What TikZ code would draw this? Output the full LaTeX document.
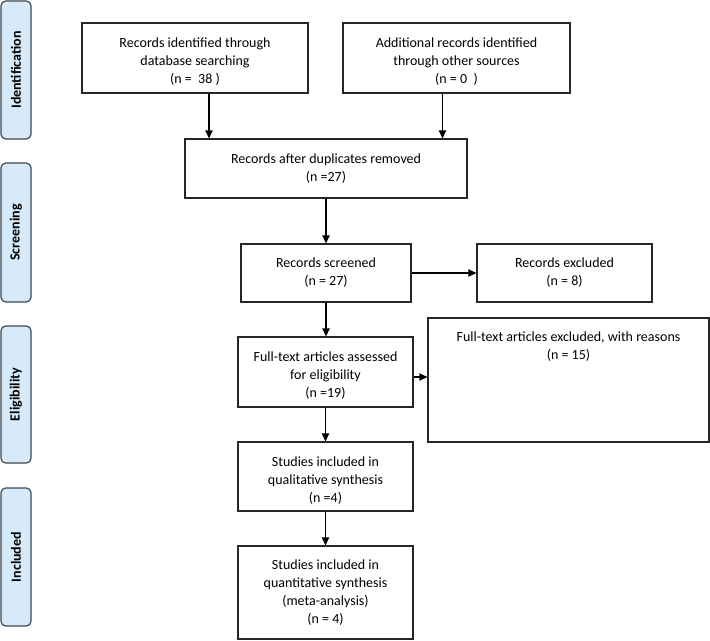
\documentclass[tikz,border=0pt]{standalone}
\usepackage{fontspec}
\setmainfont{Carlito}
\usetikzlibrary{arrows.meta,calc}
\definecolor{sidefill}{RGB}{214,234,250}
\definecolor{sideline}{RGB}{60,70,80}
\tikzset{
  x=0.75pt,y=-0.75pt,
  box/.style={draw=black!85,line width=0.9pt,fill=white,align=center,inner sep=2pt,
    font=\fontsize{10.5}{13.5}\selectfont},
  lowtext/.style={label={[align=center,font=\fontsize{10.5}{13.5}\selectfont,yshift=-2.8pt]center:#1}},
  side/.style={draw=sideline,line width=0.9pt,fill=sidefill,rounded corners=3.5pt,
    minimum width=22.5pt,inner sep=0pt,font=\bfseries\fontsize{10.5}{13}\selectfont},
  arr/.style={line width=0.9pt,-{Triangle[width=5.5pt,length=6pt]}},
}
\begin{document}
\begin{tikzpicture}
\useasboundingbox (0,0) rectangle (710,640);
% side bars
\node[side,minimum height=103.5pt] (sid) at (16,70) {\rotatebox{90}{Identification}};
\node[side,minimum height=104.25pt] (sscr) at (16,232.5) {\rotatebox{90}{Screening}};
\node[side,minimum height=102.75pt] (selig) at (16,394.5) {\rotatebox{90}{Eligibility}};
\node[side,minimum height=103.5pt] (sinc) at (16,557) {\rotatebox{90}{Included}};
% boxes
\node[box,minimum width=169.5pt,minimum height=52.5pt,
  lowtext={Records identified through\\database searching\\(n =\ \ 38 )}] (b1) at (195,58) {};
\node[box,minimum width=170.25pt,minimum height=52.5pt,
  lowtext={Additional records identified\\through other sources\\(n = 0\ \ )}] (b2) at (456.5,58) {};
\node[box,minimum width=211.5pt,minimum height=44.25pt] (b3) at (326,168.5)
  {Records after duplicates removed\\(n =27)};
\node[box,minimum width=127.5pt,minimum height=43.5pt] (b4) at (326,273)
  {Records screened\\(n = 27)};
\node[box,minimum width=131.25pt,minimum height=43.5pt] (b5) at (564.5,273)
  {Records excluded\\(n = 8)};
\node[box,minimum width=131.25pt,minimum height=52.5pt,
  lowtext={Full-text articles assessed\\for eligibility\\(n =19)}] (b6) at (325.5,372) {};
\node[box,minimum width=210.75pt,minimum height=93pt,
  label={[anchor=north,align=center,font=\fontsize{10.5}{13.5}\selectfont,yshift=-7pt]north:Full-text articles excluded, with reasons\\(n = 15)}] (b7) at (568.5,380) {};
\node[box,minimum width=131.25pt,minimum height=51.75pt,
  lowtext={Studies included in\\qualitative synthesis\\(n =4)}] (b8) at (325.5,476.5) {};
\node[box,minimum width=131.25pt,minimum height=69.75pt] (b9) at (325.5,592.5)
  {Studies included in\\quantitative synthesis\\(meta-analysis)\\(n = 4)};
% arrows
\draw[arr] ([xshift=10.5pt]b1.south) -- ([xshift=10.5pt]b1.south |- b3.north);
\draw[arr] ([xshift=-10.5pt]b2.south) -- ([xshift=-10.5pt]b2.south |- b3.north);
\draw[arr] (b3.south) -- (b3.south |- b4.north);
\draw[arr] (b4.east) -- (b4.east -| b5.west);
\draw[arr] (b4.south) -- (b4.south |- b6.north);
\draw[arr] ([yshift=-3.75pt]b6.east) -- ([yshift=-3.75pt]b6.east -| b7.west);
\draw[arr] (b6.south) -- (b6.south |- b8.north);
\draw[arr] (b8.south) -- (b8.south |- b9.north);
\end{tikzpicture}
\end{document}
